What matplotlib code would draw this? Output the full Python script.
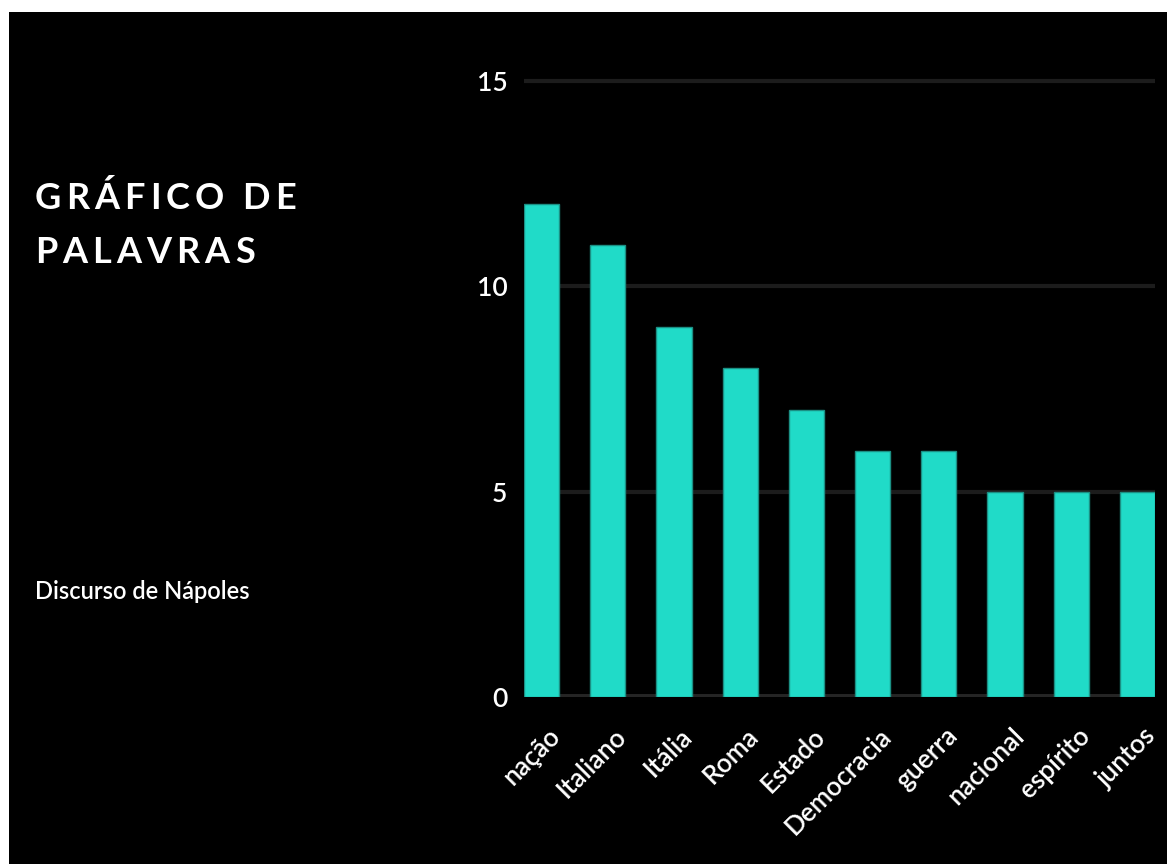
import matplotlib
matplotlib.use("Agg")
import matplotlib.pyplot as plt
import matplotlib.transforms as mtransforms
from matplotlib.patches import Rectangle
from matplotlib.font_manager import FontProperties, findfont, get_font

# word counts from the speech
words = ["nação", "Italiano", "Itália", "Roma", "Estado",
         "Democracia", "guerra", "nacional", "espírito", "juntos"]
counts = [12, 11, 9, 8, 7, 6, 6, 5, 5, 5]
y_ticks = [0, 5, 10, 15]

title_lines = ["GRÁFICO DE", "PALAVRAS"]
subtitle = "Discurso de Nápoles"

W, H, DPI = 1167, 864, 100
BAR = "#20dbc8"
FONT = "Lato"

plt.rcParams["font.family"] = [FONT, "DejaVu Sans"]

fig = plt.figure(figsize=(W / DPI, H / DPI), dpi=DPI, facecolor="white")
# black panel (thin white margin on top and left, like the screenshot)
fig.add_artist(Rectangle((9 / W, 0), 1 - 9 / W, 1 - 12 / H,
                         transform=fig.transFigure, facecolor="black",
                         edgecolor="none", zorder=0))


def tracked_text(x_px, y_px, text, size, weight="bold", track=5.0):
    """Draw text letter by letter with extra spacing (pixel coords, y from top)."""
    prop = FontProperties(family=FONT, weight=weight, size=size)
    font = get_font(findfont(prop))
    font.set_size(size, DPI)
    x = x_px
    for ch in text:
        fig.text(x / W, 1 - y_px / H, ch, fontproperties=prop, color="white",
                 ha="left", va="baseline", zorder=5)
        g = font.load_char(ord(ch))
        x += g.linearHoriAdvance / 65536 + track


tracked_text(35, 209, title_lines[0], 26)
tracked_text(35, 263, title_lines[1], 26)
fig.text(35 / W, 1 - 599 / H, subtitle, color="white", fontsize=17,
         fontweight="semibold", ha="left", va="baseline", fontfamily=FONT)

# axes placement in pixels
left, right, y0, y15 = 524, 1155, 697, 81
per_unit = (y0 - y15) / 15
ymax = 15.25
top = y0 - ymax * per_unit
ax = fig.add_axes([left / W, 1 - y0 / H, (right - left) / W, (y0 - top) / H])
ax.set_facecolor("none")

x = list(range(len(words)))
width = 0.53
ax.bar(x, counts, width=width, color=BAR, edgecolor="#1b8f84",
       linewidth=1.0, zorder=3)
ax.set_xlim(-width / 2, len(words) - 1 + width / 2)
ax.set_ylim(0, ymax)

ax.set_yticks(y_ticks)
ax.grid(axis="y", color="#1c1c1c", linewidth=3, zorder=0)
ax.axhline(0, color="#252525", linewidth=5, zorder=2)
for s in ax.spines.values():
    s.set_visible(False)

ax.tick_params(axis="y", length=0, pad=12, labelsize=19, labelcolor="white")
ax.tick_params(axis="x", length=0, pad=19, labelsize=19, labelcolor="white")
for lab in ax.get_yticklabels():
    lab.set_fontweight("semibold")
ax.set_xticks(x)
ax.set_xticklabels(words, rotation=45, ha="right", va="top",
                   rotation_mode="anchor", fontweight="semibold")
offset = mtransforms.ScaledTranslation(6 / DPI, 0, fig.dpi_scale_trans)
for lab in ax.get_xticklabels():
    lab.set_transform(lab.get_transform() + offset)

fig.savefig("out.png", dpi=DPI, facecolor=fig.get_facecolor())
